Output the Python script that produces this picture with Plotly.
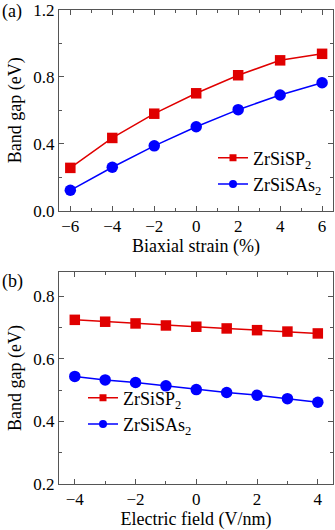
import plotly.graph_objects as go

# Band gap vs biaxial strain
strain = [-6, -4, -2, 0, 2, 4, 6]
gap_strain_p = [0.256, 0.435, 0.580, 0.702, 0.810, 0.899, 0.938]
gap_strain_as = [0.122, 0.260, 0.388, 0.502, 0.604, 0.692, 0.765]

# Band gap vs electric field
field = [-4, -3, -2, -1, 0, 1, 2, 3, 4]
gap_field_p = [0.725, 0.719, 0.7135, 0.707, 0.703, 0.6975, 0.692, 0.6875, 0.6815]
gap_field_as = [0.544, 0.533, 0.5245, 0.514, 0.502, 0.4925, 0.484, 0.473, 0.4615]

names = ["ZrSiSP<sub>2</sub>", "ZrSiSAs<sub>2</sub>"]
RED = "#e00000"
BLUE = "#0000ff"
FONT = "'Liberation Serif', 'Times New Roman', Times, serif"
W, H = 335, 530

fig = go.Figure()

def add_pair(x, y1, y2, xa, ya, legend):
    fig.add_trace(go.Scatter(x=x, y=y1, mode="lines+markers", xaxis=xa, yaxis=ya,
                             line=dict(color=RED, width=1.5),
                             marker=dict(symbol="square", size=10.5, color=RED),
                             showlegend=False, cliponaxis=False))
    fig.add_trace(go.Scatter(x=x, y=y2, mode="lines+markers", xaxis=xa, yaxis=ya,
                             line=dict(color=BLUE, width=1.5),
                             marker=dict(symbol="circle", size=11.5, color=BLUE),
                             showlegend=False, cliponaxis=False))
    # legend entries with smaller symbols
    fig.add_trace(go.Scatter(x=[None], y=[None], mode="lines+markers", xaxis=xa, yaxis=ya,
                             name=names[0], legend=legend,
                             line=dict(color=RED, width=1.5),
                             marker=dict(symbol="square", size=7, color=RED)))
    fig.add_trace(go.Scatter(x=[None], y=[None], mode="lines+markers", xaxis=xa, yaxis=ya,
                             name=names[1], legend=legend,
                             line=dict(color=BLUE, width=1.5),
                             marker=dict(symbol="circle", size=8, color=BLUE)))

add_pair(strain, gap_strain_p, gap_strain_as, "x", "y", "legend")
add_pair(field, gap_field_p, gap_field_as, "x2", "y2", "legend2")

xdom = [59 / W, 333 / W]
top_dom = [(H - 210.7) / H, (H - 10) / H]
bot_dom = [(H - 484) / H, (H - 272) / H]

axis_common = dict(showline=True, linecolor="#555", linewidth=1, mirror="ticks",
                   ticks="inside", ticklen=5, tickcolor="#555", showgrid=False,
                   zeroline=False, ticklabeloverflow="allow", automargin=False,
                   tickfont=dict(family=FONT, size=17, color="black"),
                   title_font=dict(family=FONT, size=18, color="black"))

fig.update_layout(
    width=W, height=H, margin=dict(l=0, r=0, t=0, b=0, autoexpand=False),
    paper_bgcolor="white", plot_bgcolor="white",
    font=dict(family=FONT, size=18, color="black"),
    xaxis=dict(domain=xdom, anchor="y", range=[-6.54, 6.52], tickvals=strain,
               ticktext=["\u22126", "\u22124", "\u22122", "0", "2", "4", "6"],
               minor=dict(dtick=1, tick0=0, ticks="inside", ticklen=3, tickcolor="#555"),
               title=dict(text="Biaxial strain (%)", standoff=4), **axis_common),
    yaxis=dict(domain=top_dom, anchor="x", range=[0, 1.2], tickvals=[0, 0.4, 0.8, 1.2],
               ticktext=["0.0", "0.4", "0.8", "1.2"],
               minor=dict(dtick=0.2, tick0=0, ticks="inside", ticklen=3, tickcolor="#555"),
               title=dict(text="Band gap (eV)", standoff=7), **axis_common),
    xaxis2=dict(domain=xdom, anchor="y2", range=[-4.52, 4.5], tickvals=[-4, -2, 0, 2, 4],
                ticktext=["\u22124", "\u22122", "0", "2", "4"],
                minor=dict(dtick=1, tick0=0, ticks="inside", ticklen=3, tickcolor="#555"),
                title=dict(text="Electric field (V/nm)", standoff=2), **axis_common),
    yaxis2=dict(domain=bot_dom, anchor="x2", range=[0.2, 0.878],
                tickvals=[0.2, 0.4, 0.6, 0.8],
                minor=dict(dtick=0.1, tick0=0, ticks="inside", ticklen=3, tickcolor="#555"),
                title=dict(text="Band gap (eV)", standoff=7), **axis_common),
    legend=dict(x=213 / W, y=(H - 171) / H, xanchor="left", yanchor="middle",
                bgcolor="rgba(0,0,0,0)", font=dict(family=FONT, size=18),
                tracegroupgap=0, itemwidth=30),
    legend2=dict(x=83 / W, y=(H - 411) / H, xanchor="left", yanchor="middle",
                 bgcolor="rgba(0,0,0,0)", font=dict(family=FONT, size=18),
                 tracegroupgap=0, itemwidth=30),
    annotations=[
        dict(text="(a)", x=0, y=(H - 12) / H, xref="paper", yref="paper",
             xanchor="left", yanchor="middle", showarrow=False,
             font=dict(family=FONT, size=18)),
        dict(text="(b)", x=0, y=(H - 281) / H, xref="paper", yref="paper",
             xanchor="left", yanchor="middle", showarrow=False,
             font=dict(family=FONT, size=18)),
    ],
)

fig.write_html("out.html")
